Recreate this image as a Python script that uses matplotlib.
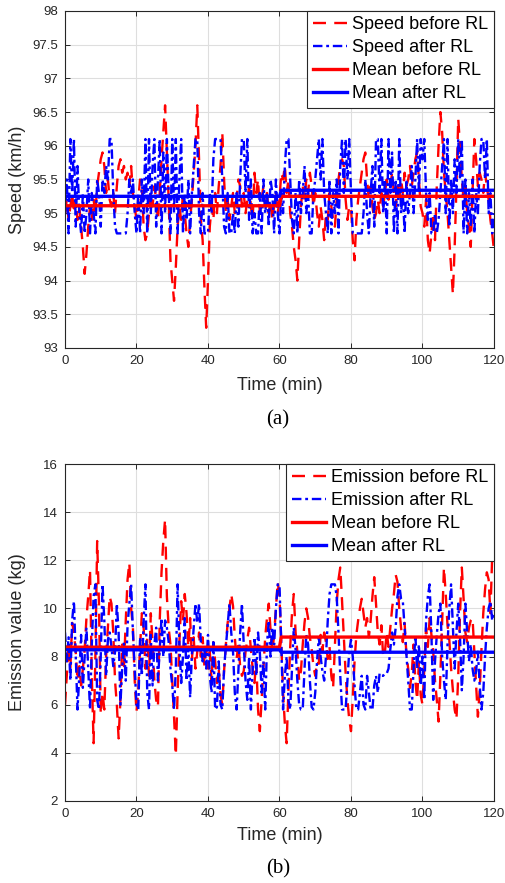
import numpy as np
import matplotlib
matplotlib.use('Agg')
import matplotlib.pyplot as plt

plt.rcParams['font.family'] = ['Liberation Sans', 'DejaVu Sans']

# time axis: one sample every half minute
t = np.arange(0, 120.5, 0.5)

speed_before = [
    95.0, 95.2, 94.9, 95.1, 95.3, 95.0, 95.2, 94.9, 95.1, 94.8, 94.5, 94.1, 94.4, 94.8, 95.1, 94.9, 95.2, 95.0, 95.4, 95.6,
    95.8, 95.9, 95.7, 95.3, 95.5, 95.2, 95.1, 95.3, 95.0, 95.4, 95.7, 95.8, 95.6, 95.7, 95.5, 95.6, 95.4, 95.7, 95.3, 95.1,
    94.9, 95.2, 95.5, 95.4, 94.8, 94.6, 94.7, 95.0, 95.3, 95.1, 95.4, 95.2, 94.9, 95.3, 95.8, 96.2, 96.6, 95.9, 95.2, 94.3,
    94.0, 93.7, 94.2, 94.8, 95.1, 94.9, 95.3, 95.0, 94.7, 94.5, 94.9, 95.2, 95.6, 96.0, 96.6, 95.8, 94.9, 94.6, 93.9, 93.3,
    94.0, 94.8, 95.1, 94.9, 95.3, 95.0, 95.4, 95.7, 96.2, 95.5, 95.0, 95.2, 94.9, 95.1, 95.3, 95.0, 95.2, 95.5, 95.4, 95.1,
    95.3, 95.0, 95.2, 95.4, 95.1, 94.9, 95.6, 95.3, 95.5, 95.0, 95.2, 95.4, 95.1, 95.3, 95.0, 95.2, 94.9, 95.1, 95.3, 95.0,
    95.2, 95.6, 95.5, 95.7, 95.3, 95.5, 95.0, 94.8, 94.5, 94.3, 94.0, 94.6, 95.1, 95.4, 95.2, 95.5, 95.3, 95.6, 95.4, 95.1,
    95.3, 95.0, 94.8, 95.1, 94.9, 94.6, 95.0, 94.9, 95.3, 95.1, 94.9, 94.8, 95.2, 95.5, 95.7, 95.8, 95.7, 95.2, 94.9, 95.1,
    95.1, 94.6, 94.3, 94.9, 95.2, 95.4, 95.6, 95.8, 95.9, 95.5, 95.2, 95.4, 95.1, 94.9, 95.0, 95.2, 95.0, 95.3, 95.1, 95.3,
    95.5, 95.2, 95.4, 95.6, 95.3, 95.1, 95.4, 95.2, 95.5, 95.3, 95.6, 95.4, 95.5, 95.7, 95.4, 95.6, 95.8, 95.9, 95.5, 95.1,
    95.0, 94.8, 95.2, 94.6, 94.4, 94.7, 95.0, 94.6, 95.4, 96.0, 96.5, 96.2, 95.6, 95.3, 95.0, 94.6, 94.2, 93.8, 94.5, 95.4,
    96.4, 96.0, 95.5, 95.2, 95.4, 95.0, 94.8, 94.5, 95.3, 96.1, 95.8, 95.4, 95.6, 95.5, 95.3, 95.6, 95.4, 95.2, 94.9, 94.7,
    94.45]

speed_after = [
    95.0, 95.5, 94.7, 96.1, 95.3, 96.1, 94.8, 95.7, 95.0, 94.7, 95.3, 94.7, 95.0, 95.5, 94.7, 95.3, 95.0, 94.7, 95.5, 95.3,
    94.8, 95.5, 95.3, 95.7, 95.5, 96.1, 96.1, 95.3, 94.8, 94.7, 94.7, 94.7, 94.7, 94.7, 94.7, 95.0, 95.5, 95.3, 95.5, 95.0,
    94.7, 95.3, 94.7, 95.5, 95.0, 96.1, 94.7, 96.1, 95.0, 95.7, 96.1, 94.8, 95.5, 96.1, 94.7, 95.9, 95.0, 96.1, 95.3, 94.7,
    96.1, 95.0, 96.1, 94.7, 95.5, 96.1, 94.7, 95.3, 94.9, 95.5, 94.7, 95.3, 95.7, 96.1, 96.1, 95.0, 94.7, 95.3, 94.7, 94.7,
    94.7, 95.3, 95.0, 95.8, 96.1, 96.1, 96.1, 96.1, 95.5, 94.8, 94.7, 95.3, 94.7, 94.7, 95.0, 94.7, 95.3, 94.8, 95.5, 96.1,
    96.1, 95.3, 96.1, 94.9, 95.5, 94.7, 95.0, 94.7, 94.7, 95.3, 94.7, 95.5, 95.0, 95.3, 94.8, 95.5, 95.3, 94.7, 95.5, 95.0,
    94.7, 95.3, 95.0, 95.7, 96.1, 96.1, 95.5, 94.9, 94.7, 95.3, 94.7, 95.5, 95.0, 95.3, 95.7, 95.0, 95.3, 94.7, 94.7, 95.3,
    95.5, 95.8, 96.1, 95.5, 96.1, 95.3, 95.0, 94.7, 95.5, 94.7, 95.3, 95.0, 95.5, 94.7, 95.7, 96.1, 95.3, 96.1, 95.5, 96.1,
    95.3, 94.7, 94.7, 94.7, 94.7, 94.7, 94.7, 95.0, 95.5, 95.0, 94.7, 95.3, 95.7, 94.8, 96.1, 96.1, 95.3, 96.1, 95.0, 95.5,
    94.7, 96.1, 95.3, 95.9, 94.7, 95.5, 94.7, 96.1, 95.0, 95.3, 94.7, 95.5, 95.0, 95.3, 95.7, 95.0, 95.5, 96.1, 95.3, 96.1,
    95.8, 96.1, 95.3, 94.9, 95.3, 94.7, 94.7, 95.0, 94.7, 94.9, 95.3, 95.7, 96.1, 95.0, 96.1, 94.8, 95.5, 95.0, 95.8, 95.3,
    96.1, 95.5, 96.1, 94.7, 95.5, 94.7, 95.3, 94.8, 95.5, 94.7, 95.3, 95.0, 95.7, 96.1, 96.1, 95.5, 96.1, 95.0, 95.3, 94.7,
    95.0]

emission_before = [
    6.0, 7.2, 8.5, 7.5, 9.4, 9.0, 8.2, 7.0, 7.6, 6.8, 7.5, 8.3, 9.6, 10.5, 11.6, 7.2, 4.4, 8.0, 12.8, 10.2,
    5.6, 6.5, 5.8, 8.0, 9.2, 10.5, 10.2, 9.0, 7.0, 6.0, 4.6, 6.2, 8.5, 7.6, 9.5, 11.2, 11.9, 10.0, 9.2, 7.0,
    5.7, 6.6, 8.4, 9.8, 9.2, 7.5, 8.8, 7.2, 9.8, 8.6, 7.0, 6.2, 5.9, 9.5, 11.5, 12.8, 13.7, 10.5, 9.2, 8.5,
    7.0, 5.5, 3.9, 6.5, 8.6, 10.3, 9.5, 10.6, 9.8, 8.4, 9.6, 7.9, 8.8, 7.5, 8.2, 9.0, 8.0, 8.8, 7.6, 8.3,
    7.5, 8.2, 7.0, 8.6, 7.8, 6.9, 7.5, 6.4, 6.0, 7.4, 8.5, 9.4, 10.0, 10.6, 10.1, 8.8, 7.9, 8.5, 7.6, 7.2,
    7.4, 8.2, 8.7, 9.2, 8.3, 7.5, 6.9, 7.8, 5.8, 4.9, 6.2, 7.5, 8.8, 9.6, 10.2, 9.1, 8.2, 8.9, 10.0, 11.1,
    10.5, 8.6, 6.5, 5.2, 4.4, 6.6, 8.4, 9.8, 10.6, 9.0, 8.2, 7.0, 7.4, 8.5, 9.4, 10.0, 9.6, 8.8, 8.3, 7.6,
    7.2, 7.8, 7.7, 8.9, 8.2, 9.0, 8.6, 7.9, 8.4, 7.2, 6.7, 8.5, 10.2, 11.2, 11.7, 10.3, 8.8, 7.3, 6.2, 5.4,
    4.9, 6.3, 7.8, 8.9, 9.5, 10.0, 10.4, 9.8, 9.2, 9.6, 8.8, 9.5, 10.5, 11.3, 10.2, 9.0, 8.5, 9.3, 8.0, 8.2,
    9.0, 8.4, 9.2, 10.0, 10.6, 11.4, 11.1, 10.0, 9.2, 8.6, 9.4, 8.1, 7.5, 6.7, 7.3, 8.5, 7.0, 6.2, 7.8, 6.4,
    6.0, 7.5, 9.2, 8.4, 9.6, 8.9, 8.2, 7.0, 6.2, 5.3, 7.2, 9.5, 11.7, 10.6, 9.3, 8.7, 7.5, 6.6, 5.8, 5.4,
    7.2, 9.8, 11.7, 10.4, 9.0, 8.6, 9.2, 9.5, 9.6, 8.2, 6.8, 5.5, 6.6, 8.3, 9.8, 10.8, 11.5, 11.2, 9.8, 12.2,
    14.2]

emission_after = [
    9.0, 7.8, 8.8, 7.0, 9.5, 10.3, 8.1, 5.8, 7.2, 8.9, 6.7, 8.0, 9.2, 7.5, 5.8, 8.5, 10.5, 11.0, 6.2, 5.8,
    8.0, 11.0, 9.5, 7.2, 8.7, 9.0, 8.4, 7.6, 8.2, 10.2, 9.0, 6.0, 7.5, 8.6, 7.0, 9.3, 10.2, 11.0, 9.0, 7.5,
    6.0, 5.8, 8.8, 7.2, 9.5, 11.0, 6.5, 5.8, 8.9, 6.8, 8.5, 9.2, 7.0, 8.3, 9.6, 8.0, 9.5, 9.2, 8.6, 7.5,
    6.8, 5.8, 7.5, 11.0, 8.5, 6.9, 8.0, 9.6, 7.0, 8.4, 6.3, 8.1, 9.2, 10.2, 9.4, 10.2, 8.6, 7.8, 8.3, 7.5,
    8.9, 7.2, 6.5, 8.6, 5.8, 5.9, 7.8, 6.0, 5.8, 7.5, 8.4, 9.3, 10.2, 9.0, 8.2, 6.5, 5.8, 7.4, 9.0, 10.2,
    8.5, 7.0, 6.2, 8.0, 5.8, 7.5, 8.8, 7.2, 9.0, 8.2, 6.5, 7.8, 5.8, 8.5, 9.5, 8.0, 9.2, 8.5, 10.0, 11.0,
    11.0, 8.5, 5.8, 7.2, 8.0, 6.2, 5.8, 7.5, 9.2, 8.3, 7.0, 6.0, 5.8, 5.8, 7.5, 8.9, 8.5, 7.0, 5.9, 5.8,
    6.5, 7.8, 8.8, 8.0, 7.4, 7.0, 8.0, 9.5, 10.6, 11.0, 11.0, 11.0, 10.5, 9.0, 7.2, 5.8, 5.8, 5.8, 7.0, 8.2,
    8.7, 8.0, 6.8, 5.8, 5.8, 6.5, 7.2, 6.0, 5.8, 7.2, 6.5, 5.8, 5.8, 6.8, 7.2, 6.5, 7.3, 7.2, 7.2, 7.3,
    7.3, 7.5, 8.3, 9.0, 8.5, 9.2, 10.5, 11.0, 10.4, 10.3, 9.2, 8.1, 7.0, 5.8, 5.8, 7.5, 8.9, 7.5, 8.5, 6.8,
    8.0, 6.2, 9.5, 10.5, 11.0, 8.9, 6.2, 7.8, 8.9, 9.8, 10.2, 8.0, 7.0, 6.2, 8.5, 10.0, 11.0, 9.2, 7.5, 9.0,
    10.2, 8.8, 6.6, 8.0, 10.2, 9.0, 7.8, 8.5, 7.5, 7.0, 7.4, 8.2, 6.8, 5.8, 6.5, 8.0, 9.2, 10.0, 10.3, 9.5,
    9.9]

# means over first and second hour
speed_mean_before = [95.11, 95.25]
speed_mean_after = [95.25, 95.34]
emission_mean_before = [8.39, 8.81]
emission_mean_after = [8.28, 8.18]


def half_means(vals):
    return np.where(t <= 60, vals[0], vals[1])


def draw_panel(ax, before, after, m_before, m_after, labels, ylim, yticks, ylabel, xlab_y):
    ax.plot(t, before, color='red', lw=1.7, linestyle=(0, (5.5, 3.5)), label=labels[0])
    ax.plot(t, after, color='blue', lw=1.7, linestyle=(0, (4.0, 1.6, 1.2, 1.6)), label=labels[1])
    ax.plot(t, half_means(m_before), color='red', lw=2.4, label=labels[2])
    ax.plot(t, half_means(m_after), color='blue', lw=2.4, label=labels[3])

    ax.set_xlim(0, 120)
    ax.set_ylim(*ylim)
    ax.set_xticks(np.arange(0, 121, 20))
    ax.set_yticks(yticks)
    ax.grid(True, color='#dedede', lw=0.8)
    ax.set_axisbelow(True)
    ax.tick_params(direction='in', top=True, right=True, labelsize=9.5,
                   colors='#262626', length=3.5, width=0.7, pad=5)
    for s in ax.spines.values():
        s.set_color('#262626')
        s.set_linewidth(0.8)
    ax.set_xlabel('Time (min)', fontsize=13, color='#262626')
    ax.set_ylabel(ylabel, fontsize=13, color='#262626')
    ax.xaxis.set_label_coords(0.5, xlab_y)
    ax.yaxis.set_label_coords(-0.092, 0.5)

    leg = ax.legend(loc='upper right', fontsize=13, handlelength=1.9,
                    handletextpad=0.3, labelspacing=0.33, borderpad=0.3,
                    borderaxespad=0, fancybox=False, framealpha=1)
    leg.get_frame().set_edgecolor('#262626')
    leg.get_frame().set_linewidth(0.8)


fig = plt.figure(figsize=(5.05, 8.83), dpi=100)

ax1 = fig.add_axes([0.1287, 0.6059, 0.8495, 0.3817])
draw_panel(ax1, speed_before, speed_after, speed_mean_before, speed_mean_after,
           ['Speed before RL', 'Speed after RL', 'Mean before RL', 'Mean after RL'],
           (93, 98), np.arange(93, 98.01, 0.5), 'Speed (km/h)', -0.085)
ax1.set_yticklabels(['93', '93.5', '94', '94.5', '95', '95.5', '96', '96.5', '97', '97.5', '98'])

ax2 = fig.add_axes([0.1287, 0.0929, 0.8495, 0.3816])
draw_panel(ax2, emission_before, emission_after, emission_mean_before, emission_mean_after,
           ['Emission before RL', 'Emission after RL', 'Mean before RL', 'Mean after RL'],
           (2, 16), np.arange(2, 17, 2), 'Emission value (kg)', -0.077)

fig.text(0.5505, 1 - 420 / 883, '(a)', ha='center', va='center',
         fontsize=15, family='Liberation Serif')
fig.text(0.5505, 1 - 869 / 883, '(b)', ha='center', va='center',
         fontsize=15, family='Liberation Serif')

fig.savefig('out.png', dpi=100)
